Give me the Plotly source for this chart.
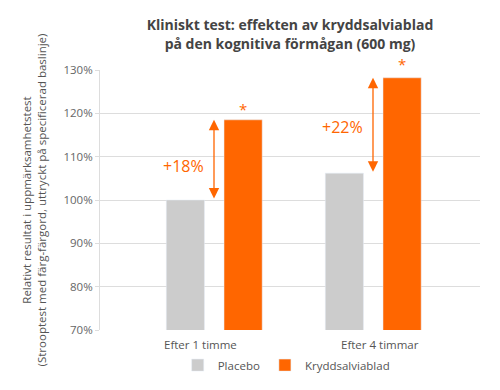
import plotly.graph_objects as go

categories = ["Efter 1 timme", "Efter 4 timmar"]
placebo = [100.0, 106.2]
salvia = [118.5, 128.2]
increase_labels = ["+18%", "+22%"]
y_ticks = [70, 80, 90, 100, 110, 120, 130]
y_ticktext = [f"{v}%" for v in y_ticks]

GRAY = "#cccccc"
ORANGE = "#ff6600"
FONT = "Open Sans"

fig = go.Figure()
fig.add_trace(go.Bar(
    name="Placebo", x=categories, y=placebo, marker_color=GRAY,
    width=0.24, offset=-0.30, hoverinfo="skip",
))
fig.add_trace(go.Bar(
    name="Kryddsalviablad", x=categories, y=salvia, marker_color=ORANGE,
    width=0.24, offset=0.063, hoverinfo="skip",
))

annotations = []
label_shift = [-14, 7]
pct_yshift = [-6, -2]
star_yshift = [11, 14]
for i, cat in enumerate(categories):
    annotations.append(dict(
        x=cat, y=salvia[i], ax=cat, ay=placebo[i], xref="x", yref="y",
        axref="x", ayref="y", showarrow=True, arrowhead=2, startarrowhead=2,
        arrowside="end+start", arrowsize=1.6, startarrowsize=1.6,
        arrowwidth=1.3, arrowcolor=ORANGE, text="", standoff=0, startstandoff=0,
    ))
    annotations.append(dict(
        x=cat, y=(placebo[i] + salvia[i]) / 2, xref="x", yref="y",
        text=increase_labels[i], showarrow=False, xshift=-31,
        yshift=pct_yshift[i],
        font=dict(family=FONT, size=16, color=ORANGE),
    ))
    annotations.append(dict(
        x=cat, y=salvia[i], xref="x", yref="y", text="*", showarrow=False,
        xshift=29, yshift=star_yshift[i],
        font=dict(family=FONT, size=15, color=ORANGE),
    ))
    annotations.append(dict(
        x=cat, y=70, xref="x", yref="y", text=cat, showarrow=False,
        xshift=label_shift[i], yshift=-14,
        font=dict(family=FONT, size=11.5, color="#555555"),
    ))

fig.update_layout(
    width=500, height=390,
    margin=dict(l=100, r=20, t=70, b=60, autoexpand=False),
    paper_bgcolor="white", plot_bgcolor="white",
    font=dict(family=FONT, size=12, color="#555555"),
    title=dict(
        text="<b>Kliniskt test: effekten av kryddsalviablad<br>på den kognitiva förmågan (600 mg)</b>",
        x=0.5, xanchor="center", xref="paper", y=0.922, yanchor="middle",
        font=dict(family=FONT, size=14, color="#444444"),
    ),
    barmode="group",
    showlegend=True,
    legend=dict(
        orientation="h", x=0.49, xanchor="center", y=-0.135, yanchor="middle",
        font=dict(family=FONT, size=11.5, color="#555555"),
        itemwidth=30, traceorder="normal",
    ),
    xaxis=dict(
        range=[-0.717, 1.673], showticklabels=False, showgrid=False,
        zeroline=False, showline=False, ticks="", automargin=False,
    ),
    yaxis=dict(
        range=[70, 130], tickvals=y_ticks, ticktext=y_ticktext,
        showgrid=True, gridcolor="#dddddd", gridwidth=1,
        showline=True, linecolor="#dddddd", linewidth=1,
        ticks="outside", ticklen=4, tickcolor="#dddddd",
        zeroline=False, automargin=False,
        tickfont=dict(family=FONT, size=11.5, color="#666666"),
        title=dict(
            text="Relativt resultat i uppmärksamhetstest<br>(Strooptest med färg-färgord, uttryckt på specificerad baslinje)",
            font=dict(family=FONT, size=11.5, color="#555555"), standoff=14,
        ),
    ),
    annotations=annotations,
)

fig.write_html(
    "out.html",
    config={"displayModeBar": False},
    post_script="document.body.style.margin='0';",
)
